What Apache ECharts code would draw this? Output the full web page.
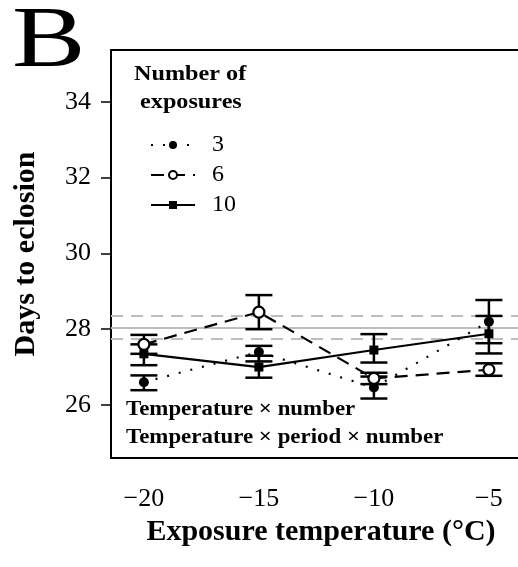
<!DOCTYPE html>
<html>
<head>
<meta charset="utf-8">
<script src="https://cdn.jsdelivr.net/npm/echarts@6/dist/echarts.min.js"></script>
<style>
  html, body { margin: 0; padding: 0; background: #fff; }
  #chart { width: 518px; height: 567px; }
</style>
</head>
<body>
<div id="chart"></div>
<script>
// exposure temperatures (x)
let temps = [-20, -15, -10, -5];
let xTicks = [-20, -15, -10, -5];
let yTicks = [26, 28, 30, 32, 34];

// number of exposures: 3
let mean3 = [26.6, 27.4, 26.46, 28.2];
let lo3 = [26.39, 27.15, 26.17, 27.63];
let hi3 = [26.78, 27.56, 26.75, 28.77];
// 6
let mean6 = [27.6, 28.45, 26.7, 26.93];
let lo6 = [27.35, 28.0, 26.55, 26.77];
let hi6 = [27.85, 28.9, 26.85, 27.1];
// 10
let mean10 = [27.35, 27.0, 27.45, 27.88];
let lo10 = [27.05, 26.72, 27.12, 27.36];
let hi10 = [27.6, 27.3, 27.87, 28.35];

// grey reference band
let refMean = 28.04;
let refLo = 27.75;
let refHi = 28.35;

const SERIF = '"Liberation Serif", "DejaVu Serif", serif';

function pairs(xs, ys) {
    return xs.map((x, i) => [x, ys[i]]);
}
function bars(xs, lo, hi) {
    return xs.map((x, i) => [x, lo[i], hi[i]]);
}

function renderErr(params, api) {
    let x = api.value(0);
    let pLo = api.coord([x, api.value(1)]);
    let pHi = api.coord([x, api.value(2)]);
    let hw = 13.5;
    let st = { stroke: '#000', lineWidth: 2.5 };
    return {
        type: 'group',
        children: [
            { type: 'line', shape: { x1: pLo[0], y1: pLo[1], x2: pHi[0], y2: pHi[1] }, style: st },
            { type: 'line', shape: { x1: pLo[0] - hw, y1: pLo[1], x2: pLo[0] + hw, y2: pLo[1] }, style: st },
            { type: 'line', shape: { x1: pHi[0] - hw, y1: pHi[1], x2: pHi[0] + hw, y2: pHi[1] }, style: st }
        ]
    };
}

function errSeries(lo, hi) {
    return {
        type: 'custom',
        renderItem: renderErr,
        data: bars(temps, lo, hi),
        encode: { x: 0, y: [1, 2] },
        z: 5,
        silent: true
    };
}

var dom = document.getElementById('chart');
var myChart = echarts.init(dom);

let option = {
    animation: false,
    textStyle: { fontFamily: SERIF, color: '#000' },
    grid: {
        left: 111,
        top: 50,
        width: 420,
        height: 408,
        outerBoundsMode: 'none',
        containLabel: false,
        show: true,
        borderColor: '#000',
        borderWidth: 2,
        backgroundColor: 'transparent'
    },
    legend: {
        data: ['3', '6', '10'],
        orient: 'vertical',
        left: 145,
        top: 128,
        itemWidth: 44,
        itemHeight: 10,
        itemGap: 6,
        textStyle: { fontFamily: SERIF, fontSize: 24, color: '#000', padding: [0, 0, 0, 12] }
    },
    graphic: [
        {
            type: 'text', left: 12, top: 0,
            style: { text: 'B', font: '86px ' + SERIF, fill: '#000' },
            scaleX: 1.28
        },
        {
            type: 'text', left: 134, top: 60,
            style: { text: 'Number of\n exposures', font: 'bold 22px ' + SERIF, fill: '#000', lineHeight: 28 },
            scaleX: 1.1
        },
        {
            type: 'text', left: 126, top: 399,
            style: { text: 'Temperature \u00d7 number', font: 'bold 21px ' + SERIF, fill: '#000' },
            scaleX: 1.09
        },
        {
            type: 'text', left: 126, top: 427,
            style: { text: 'Temperature \u00d7 period \u00d7 number', font: 'bold 21px ' + SERIF, fill: '#000' },
            scaleX: 1.09
        }
    ],
    xAxis: {
        type: 'value',
        min: -21.43,
        max: -3.17,
        name: 'Exposure temperature (\u00b0C)',
        nameLocation: 'middle',
        nameGap: 52,
        nameTextStyle: { fontFamily: SERIF, fontSize: 30, fontWeight: 'bold', color: '#000' },
        axisLine: { show: true, lineStyle: { color: '#000', width: 2 } },
        axisTick: { show: false },
        splitLine: { show: false },
        axisLabel: {
            customValues: xTicks,
            margin: 28,
            fontFamily: SERIF,
            fontSize: 26,
            color: '#000',
            formatter: v => String(v).replace('-', '\u2212')
        }
    },
    yAxis: {
        type: 'value',
        min: 24.6,
        max: 35.37,
        name: 'Days to eclosion',
        nameLocation: 'middle',
        nameGap: 70,
        nameRotate: 90,
        nameTextStyle: { fontFamily: SERIF, fontSize: 30, fontWeight: 'bold', color: '#000' },
        axisLine: { show: true, lineStyle: { color: '#000', width: 2 } },
        axisTick: { show: true, customValues: yTicks, length: 10, lineStyle: { color: '#000', width: 1.5 } },
        splitLine: { show: false },
        axisLabel: {
            customValues: yTicks,
            margin: 20,
            fontFamily: SERIF,
            fontSize: 26,
            color: '#000'
        }
    },
    series: [
        {
            name: 'ref',
            type: 'line',
            data: [],
            z: 1,
            markLine: {
                silent: true,
                symbol: 'none',
                label: { show: false },
                lineStyle: { color: '#bdbdbd', width: 2 },
                data: [
                    { yAxis: refMean, lineStyle: { type: 'solid' } },
                    { yAxis: refHi, lineStyle: { type: [12, 8] } },
                    { yAxis: refLo, lineStyle: { type: [12, 8] } }
                ]
            }
        },
        {
            name: '3',
            type: 'line',
            data: pairs(temps, mean3),
            symbol: 'circle',
            symbolSize: 10,
            itemStyle: { color: '#000' },
            lineStyle: { color: '#000', width: 2.2, type: [2, 10] },
            z: 6
        },
        {
            name: '6',
            type: 'line',
            data: pairs(temps, mean6),
            symbol: 'circle',
            symbolSize: 11,
            itemStyle: { color: '#fff', borderColor: '#000', borderWidth: 2.2 },
            lineStyle: { color: '#000', width: 2.2, type: [13, 8] },
            z: 6
        },
        {
            name: '10',
            type: 'line',
            data: pairs(temps, mean10),
            symbol: 'rect',
            symbolSize: 9,
            itemStyle: { color: '#000' },
            lineStyle: { color: '#000', width: 2.2, type: 'solid' },
            z: 6
        },
        errSeries(lo3, hi3),
        errSeries(lo6, hi6),
        errSeries(lo10, hi10)
    ]
};

myChart.setOption(option, true);
</script>
</body>
</html>
